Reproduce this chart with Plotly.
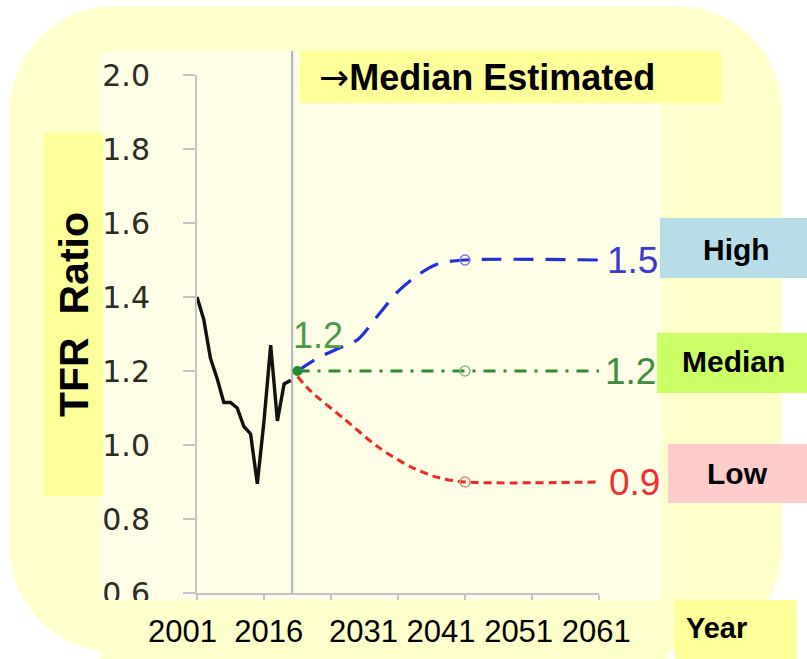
import plotly.graph_objects as go

# ---- data -------------------------------------------------------------
hist_years = [2001, 2002, 2003, 2004, 2005, 2006, 2007, 2008, 2009, 2010,
              2011, 2012, 2013, 2014, 2015]
hist_tfr = [1.40, 1.34, 1.235, 1.18, 1.115, 1.115, 1.10, 1.05, 1.03, 0.895,
            1.065, 1.27, 1.065, 1.165, 1.175]

high_years = [2016, 2019, 2022, 2025, 2028, 2031, 2034, 2037, 2041, 2061]
high_tfr = [1.20, 1.235, 1.26, 1.285, 1.35, 1.415, 1.46, 1.49, 1.50, 1.50]

median_years = [2016, 2041, 2061]
median_tfr = [1.20, 1.20, 1.20]

low_years = [2016, 2018, 2023, 2028, 2033, 2037, 2041, 2061]
low_tfr = [1.185, 1.145, 1.07, 0.995, 0.94, 0.912, 0.90, 0.90]

start_year = 2016
start_tfr = 1.20
milestone_year = 2041
current_year = 2015.2

year_labels = ["2001", "2016", "2031", "2041", "2051", "2061"]
year_gaps = [2, 3, 1, 1, 1]          # spaces between successive year labels
scenario_names = ["High", "Median", "Low"]

W, H = 807, 659


def px(x):
    return x / W


def py(y):
    return 1 - y / H


fig = go.Figure()

# historical series
fig.add_trace(go.Scatter(x=hist_years, y=hist_tfr, mode="lines",
                         line=dict(color="#111111", width=3.4)))
# projections
fig.add_trace(go.Scatter(x=high_years, y=high_tfr, mode="lines",
                         line=dict(color="#2230d8", width=3.2, dash="20px,12px",
                                   shape="spline", smoothing=0.8)))
fig.add_trace(go.Scatter(x=median_years, y=median_tfr, mode="lines",
                         line=dict(color="#2e8b2e", width=3,
                                   dash="12px,8px,3px,8px")))
fig.add_trace(go.Scatter(x=low_years, y=low_tfr, mode="lines",
                         line=dict(color="#f02828", width=3, dash="8px,5px",
                                   shape="spline", smoothing=0.8)))
# milestone markers
fig.add_trace(go.Scatter(
    x=[milestone_year] * 3,
    y=[high_tfr[high_years.index(milestone_year)],
       median_tfr[median_years.index(milestone_year)],
       low_tfr[low_years.index(milestone_year)]],
    mode="markers",
    marker=dict(symbol="circle-open", size=10,
                color=["#7a80e0", "#88bb88", "#f08080"], line=dict(width=1.5))))
# starting point
fig.add_trace(go.Scatter(x=[start_year], y=[start_tfr], mode="markers",
                         marker=dict(size=10, color="#1f8a2a")))

shapes = []
# rounded yellow panel
x0, x1, y0, y1, r = 10, 782, 6, 652, 105
k = 0.5523 * r
pts = [
    ("M", [(x0 + r, y0)]),
    ("L", [(x1 - r, y0)]),
    ("C", [(x1 - r + k, y0), (x1, y0 + r - k), (x1, y0 + r)]),
    ("L", [(x1, y1 - r)]),
    ("C", [(x1, y1 - r + k), (x1 - r + k, y1), (x1 - r, y1)]),
    ("L", [(x0 + r, y1)]),
    ("C", [(x0 + r - k, y1), (x0, y1 - r + k), (x0, y1 - r)]),
    ("L", [(x0, y0 + r)]),
    ("C", [(x0, y0 + r - k), (x0 + r - k, y0), (x0 + r, y0)]),
]
path = ""
for cmd, coords in pts:
    path += cmd + " " + " ".join(f"{px(a):.5f},{py(b):.5f}" for a, b in coords) + " "
path += "Z"
shapes.append(dict(type="path", path=path, xref="paper", yref="paper",
                   fillcolor="#ffffcc", line=dict(width=0), layer="below"))
# chart panel
shapes.append(dict(type="rect", xref="paper", yref="paper",
                   x0=px(100), x1=px(662), y0=py(600), y1=py(51),
                   fillcolor="#fefee6", line=dict(width=0), layer="below"))
# current-year divider
cx = px(197 + (current_year - 2001) * (402 / 60))
shapes.append(dict(type="line", xref="paper", yref="paper",
                   x0=cx, x1=cx, y0=py(595), y1=py(51),
                   line=dict(color="#aab6c4", width=2), layer="below"))


def box(xa, xb, ya, yb, color):
    shapes.append(dict(type="rect", xref="paper", yref="paper",
                       x0=px(xa), x1=px(xb), y0=py(yb), y1=py(ya),
                       fillcolor=color, line=dict(width=0), layer="above"))


box(100, 668, 600, 659, "#ffffcc")   # year label strip
box(675, 797, 600, 659, "#ffff99")   # "Year"
box(300, 721, 51, 103, "#ffff99")    # header
box(44, 103, 133, 496, "#ffff99")    # y title
box(660, 807, 218, 278, "#b6dde8")   # High
box(657, 807, 333, 393, "#ccff66")   # Median
box(668, 807, 444, 503, "#ffcccc")   # Low

ann = []
bold = "Liberation Sans"
ann.append(dict(text="<span style=\"font-family:'DejaVu Sans'\">→</span>"
                     "<b>Median Estimated</b>",
                xref="paper", yref="paper",
                x=px(317), y=py(78), xanchor="left", yanchor="middle",
                showarrow=False, font=dict(family=bold, size=36, color="black")))
ann.append(dict(text="<b>TFR  Ratio</b>", xref="paper", yref="paper",
                x=px(74), y=py(315), xanchor="center", yanchor="middle",
                textangle=-90, showarrow=False,
                font=dict(family=bold, size=41, color="black")))
ann.append(dict(text="<b>Year</b>", xref="paper", yref="paper",
                x=px(716), y=py(628), xanchor="center", yanchor="middle",
                showarrow=False, font=dict(family=bold, size=29, color="black")))
for name, (cxp, cyp) in zip(scenario_names, [(736, 249), (733, 362), (737, 473)]):
    ann.append(dict(text=f"<b>{name}</b>", xref="paper", yref="paper",
                    x=px(cxp), y=py(cyp), xanchor="center", yanchor="middle",
                    showarrow=False, font=dict(family=bold, size=30, color="black")))

# year captions under the axis, as one run of text
year_text = year_labels[0]
for gap, lab in zip(year_gaps, year_labels[1:]):
    year_text += "\u00a0" * gap + lab
ann.append(dict(text=year_text, xref="paper", yref="paper",
                x=px(146), y=py(631), xanchor="left", yanchor="middle",
                showarrow=False,
                font=dict(family="Liberation Sans", size=31, color="black")))

num_font = "Liberation Sans"
end_px = 604


def yval_to_px(v):
    return 75 + (2.0 - v) * (518 / 1.4)


for val, col, dx in [(high_tfr[-1], "#3a3ad0", 1),
                     (median_tfr[-1], "#3e8e3e", -1),
                     (low_tfr[-1], "#f03030", 3)]:
    ann.append(dict(text=f"{val:.1f}", xref="paper", yref="paper",
                    x=px(end_px + dx), y=py(yval_to_px(val)),
                    xanchor="left", yanchor="middle", showarrow=False,
                    font=dict(family=num_font, size=37, color=col)))
ann.append(dict(text=f"{start_tfr:.1f}", x=2019.0, y=1.297,
                xanchor="center", yanchor="middle", showarrow=False,
                font=dict(family=num_font, size=36, color="#4a9a4a")))

fig.update_layout(
    template="none",
    width=W, height=H,
    margin=dict(l=0, r=0, t=0, b=0, pad=0, autoexpand=False),
    paper_bgcolor="white",
    plot_bgcolor="rgba(0,0,0,0)",
    showlegend=False,
    shapes=shapes,
    annotations=ann,
    xaxis=dict(domain=[px(197), px(599)], range=[2001, 2061], automargin=False,
               tick0=2001, dtick=10, ticks="outside", ticklen=8,
               tickcolor="#c4c4c4", tickwidth=2, showticklabels=False,
               showgrid=False, zeroline=False, showline=True,
               linecolor="#c4c4c4", linewidth=2),
    yaxis=dict(domain=[py(593), py(75)], range=[0.6, 2.0], automargin=False,
               tick0=0.6, dtick=0.2, tickformat=".1f", ticks="outside",
               ticklen=12, tickcolor="#c4c4c4", tickwidth=2,
               ticklabelstandoff=27,
               tickfont=dict(family="DejaVu Sans", size=30, color="#2c2c22"),
               showgrid=False, zeroline=False, showline=True,
               linecolor="#c4c4c4", linewidth=2),
)

fig.write_html("out.html")
